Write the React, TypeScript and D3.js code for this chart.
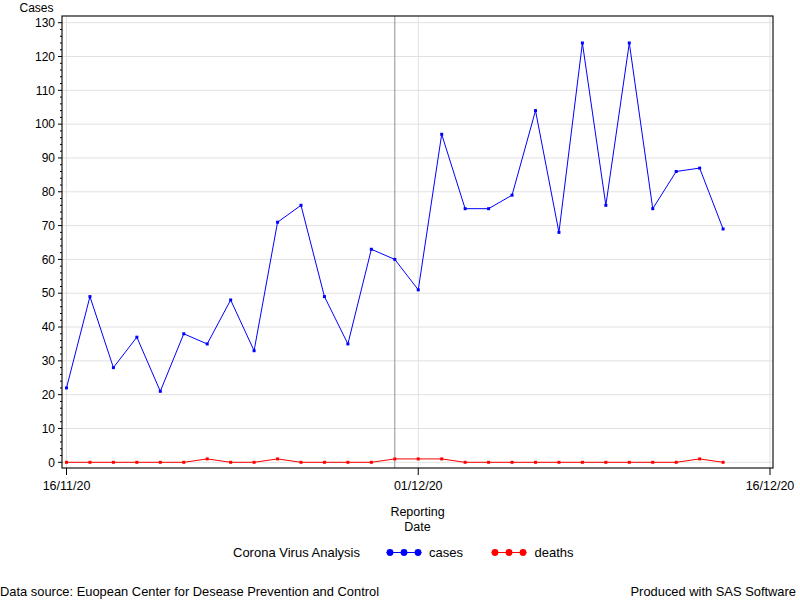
import React from "react";
import * as d3 from "d3";

const dates: string[] = [
  "2020-11-16","2020-11-17","2020-11-18","2020-11-19","2020-11-20","2020-11-21","2020-11-22",
  "2020-11-23","2020-11-24","2020-11-25","2020-11-26","2020-11-27","2020-11-28","2020-11-29",
  "2020-11-30","2020-12-01","2020-12-02","2020-12-03","2020-12-04","2020-12-05","2020-12-06",
  "2020-12-07","2020-12-08","2020-12-09","2020-12-10","2020-12-11","2020-12-12","2020-12-13",
  "2020-12-14",
];
const cases: number[] = [22,49,28,37,21,38,35,48,33,71,76,49,35,63,60,51,97,75,75,79,104,68,124,76,124,75,86,87,69];
const deaths: number[] = [0,0,0,0,0,0,1,0,0,1,0,0,0,0,1,1,1,0,0,0,0,0,0,0,0,0,0,1,0];
const xTickDates: string[] = ["2020-11-16","2020-12-01","2020-12-16"];
const xTickLabels: string[] = ["16/11/20","01/12/20","16/12/20"];
const refDate = "2020-11-30";
const yTicks: number[] = d3.range(0, 131, 10);
const yMinor: number[] = d3.range(0, 131, 2);

const FONT = "'Liberation Sans', Arial, sans-serif";

export default function App() {
  const W = 800, H = 600;
  const left = 62, right = 773, top = 16, bottom = 468;
  const parse = d3.timeParse("%Y-%m-%d");
  const x = d3.scaleTime()
    .domain([parse("2020-11-16")!, parse("2020-12-16")!])
    .range([66.5, 770]);
  const y = d3.scaleLinear().domain([0, 130]).range([462.3, 22.7]);

  const pts = dates.map((d, i) => ({ d: parse(d)!, c: cases[i], k: deaths[i] }));
  const lineC = d3.line<any>().x(p => x(p.d)).y(p => y(p.c));
  const lineD = d3.line<any>().x(p => x(p.d)).y(p => y(p.k));
  const refX = x(parse(refDate)!);

  return (
    <svg width={W} height={H} style={{ position: "absolute", left: 0, top: 0, background: "#fff" }} fontFamily={FONT}>
      <rect x={0} y={0} width={W} height={H} fill="#fff" />
      {/* gridlines */}
      {yTicks.map(t => (
        <line key={"gy" + t} x1={left} x2={right} y1={y(t)} y2={y(t)} stroke="#e1e1e1" strokeWidth={1} />
      ))}
      {xTickDates.map(t => (
        <line key={"gx" + t} x1={x(parse(t)!)} x2={x(parse(t)!)} y1={top} y2={bottom} stroke="#e1e1e1" strokeWidth={1} />
      ))}
      {/* reference line */}
      <line x1={refX} x2={refX} y1={top} y2={bottom} stroke="#8c9096" strokeWidth={1} />
      {/* series */}
      <path d={lineC(pts) || ""} fill="none" stroke="#0000ff" strokeWidth={1} />
      {pts.map((p, i) => (
        <rect key={"mc" + i} x={x(p.d) - 1.5} y={y(p.c) - 1.5} width={3} height={3} fill="#0000ff" />
      ))}
      <path d={lineD(pts) || ""} fill="none" stroke="#ff0000" strokeWidth={1} />
      {pts.map((p, i) => (
        <rect key={"md" + i} x={x(p.d) - 1.5} y={y(p.k) - 1.5} width={3} height={3} fill="#ff0000" />
      ))}
      {/* frame */}
      <rect x={left} y={top} width={right - left} height={bottom - top} fill="none" stroke="#000" strokeWidth={1.1} />
      {/* y ticks */}
      {yMinor.map(t => (
        <line key={"ym" + t} x1={t % 10 === 0 ? left - 4 : left - 2} x2={left} y1={y(t)} y2={y(t)} stroke="#000" strokeWidth={1} />
      ))}
      {yTicks.map(t => (
        <text key={"yl" + t} x={55} y={y(t)} dy="0.35em" textAnchor="end" fontSize={12} fill="#000">{t}</text>
      ))}
      <text x={36.5} y={12} textAnchor="middle" fontSize={12} fill="#000">Cases</text>
      {/* x ticks */}
      {xTickDates.map((t, i) => (
        <g key={"xt" + t}>
          <line x1={x(parse(t)!)} x2={x(parse(t)!)} y1={bottom} y2={bottom + 7} stroke="#000" strokeWidth={1} />
          <text x={x(parse(t)!)} y={490} textAnchor="middle" fontSize={12.5} fill="#000">{xTickLabels[i]}</text>
        </g>
      ))}
      <text x={(left + right) / 2} y={516} textAnchor="middle" fontSize={12.5} fill="#000">Reporting</text>
      <text x={(left + right) / 2} y={531} textAnchor="middle" fontSize={12.5} fill="#000">Date</text>
      {/* legend */}
      <text x={233} y={557} fontSize={13} fill="#000">Corona Virus Analysis</text>
      <line x1={386.5} x2={421.5} y1={552.5} y2={552.5} stroke="#0000ff" strokeWidth={1} />
      {[390, 404, 418].map(cx => <circle key={"lc" + cx} cx={cx} cy={552.5} r={3.4} fill="#0000ff" />)}
      <text x={429} y={557} fontSize={13} fill="#000">cases</text>
      <line x1={491.5} x2={526.5} y1={552.5} y2={552.5} stroke="#ff0000" strokeWidth={1} />
      {[495, 509, 523].map(cx => <circle key={"ld" + cx} cx={cx} cy={552.5} r={3.4} fill="#ff0000" />)}
      <text x={534.5} y={557} fontSize={13} fill="#000">deaths</text>
      {/* footnotes */}
      <text x={0} y={596} fontSize={12.9} fill="#000">Data source: Euopean Center for Desease Prevention and Control</text>
      <text x={796} y={596} textAnchor="end" fontSize={12.9} fill="#000">Produced with SAS Software</text>
    </svg>
  );
}
